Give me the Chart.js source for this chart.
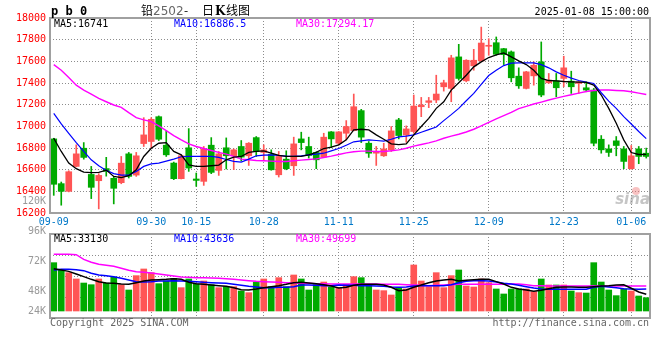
<!DOCTYPE html>
<html>
<head>
<meta charset="utf-8">
<script src="https://cdn.jsdelivr.net/npm/chart.js@4.4.1/dist/chart.umd.min.js"></script>
<style>
  html, body { margin: 0; padding: 0; background: #fff; }
  #wrap { position: relative; width: 660px; height: 360px; }
  #kline { position: absolute; left: 0; top: 0; }
  #vol { position: absolute; left: 0; top: 226px; }
</style>
</head>
<body>
<div id="wrap">
  <canvas id="kline" width="660" height="226"></canvas>
  <canvas id="vol" width="660" height="134"></canvas>
</div>
<script>
// trading days shown on the chart
const dates = [
  '09-09','09-10','09-11','09-12','09-13','09-18','09-19','09-20','09-23','09-24',
  '09-25','09-26','09-27','09-30','10-08','10-09','10-10','10-11','10-14','10-15',
  '10-16','10-17','10-18','10-21','10-22','10-23','10-24','10-25','10-28','10-29',
  '10-30','10-31','11-01','11-04','11-05','11-06','11-07','11-08','11-11','11-12',
  '11-13','11-14','11-15','11-18','11-19','11-20','11-21','11-22','11-25','11-26',
  '11-27','11-28','11-29','12-02','12-03','12-04','12-05','12-06','12-09','12-10',
  '12-11','12-12','12-13','12-16','12-17','12-18','12-19','12-20','12-23','12-24',
  '12-25','12-26','12-27','12-30','12-31','01-02','01-03','01-06','01-07','01-08'
];
const tickDates = ['09-09','09-30','10-15','10-28','11-11','11-25','12-09','12-23','01-06'];

const opens = [
  16884,16471,16400,16630,16798,16556,16498,16610,16520,16480,
  16746,16550,16841,16860,17089,16826,16661,16517,16802,16514,
  16492,16826,16593,16802,16728,16814,16728,16896,16759,16743,
  16553,16697,16636,16884,16814,16759,16716,16949,16844,16936,
  16961,17145,16844,16752,16728,16783,17059,16921,16952,17181,
  17221,17243,17365,17350,17641,17420,17558,17604,17739,17772,
  17717,17687,17463,17350,17466,17595,17402,17420,17442,17417,
  17396,17356,17335,16881,16792,16866,16792,16609,16792,16752
];
const highs = [
  16890,16486,16590,16829,16850,16630,16563,16714,16538,16722,
  16759,16759,17080,17080,17096,16958,16670,16737,16979,16569,
  16814,16896,16768,16893,16792,16869,16850,16906,16829,16783,
  16768,16774,16900,16946,16900,16765,16936,16952,16952,17053,
  17298,17157,16860,16814,16844,16998,17074,17004,17289,17267,
  17267,17472,17426,17656,17757,17615,17711,17916,17809,17825,
  17720,17696,17540,17508,17595,17779,17488,17488,17647,17509,
  17414,17411,17350,16915,16829,16906,16814,16823,16814,16799
];
const lows = [
  16363,16272,16395,16625,16697,16333,16238,16540,16284,16470,
  16523,16538,16814,16798,16869,16722,16508,16514,16584,16446,
  16455,16563,16547,16606,16600,16680,16639,16722,16685,16595,
  16532,16599,16547,16783,16707,16609,16712,16802,16829,16875,
  16958,16850,16713,16639,16722,16768,16884,16853,16936,17089,
  17172,17218,17325,17227,17426,17411,17518,17600,17656,17656,
  17570,17411,17350,17345,17380,17273,17396,17273,17365,17304,
  17304,17319,16820,16752,16722,16728,16609,16605,16655,16707
];
const closes = [
  16465,16400,16581,16746,16713,16437,16547,16585,16428,16660,
  16538,16728,16921,17065,16881,16737,16517,16728,16615,16501,
  16792,16575,16746,16728,16783,16716,16844,16768,16783,16599,
  16722,16609,16838,16850,16731,16691,16900,16884,16949,16998,
  17181,16900,16752,16765,16792,16958,16915,16976,17187,17197,
  17236,17298,17402,17632,17442,17610,17610,17769,17745,17665,
  17662,17448,17374,17503,17564,17289,17426,17356,17540,17365,
  17411,17335,16844,16783,16759,16823,16676,16728,16722,16722
];

const ma5 = [
  16890,16768,16661,16609,16578,16572,16575,16596,16538,16526,
  16544,16599,16722,16798,16844,16850,16768,16737,16645,16630,
  16630,16636,16642,16691,16716,16722,16759,16768,16774,16753,
  16731,16722,16722,16722,16737,16759,16795,16808,16829,16875,
  16967,16973,16967,16921,16881,16838,16832,16838,16921,16998,
  17074,17166,17227,17335,17402,17472,17549,17595,17635,17659,
  17678,17641,17604,17570,17518,17442,17423,17420,17414,17411,
  17408,17405,17380,17289,17166,17028,16875,16758,16740,16741
];
const ma10 = [
  17120,17022,16936,16850,16768,16691,16636,16593,16563,16550,
  16550,16584,16630,16654,16661,16679,16697,16719,16722,16722,
  16722,16722,16713,16694,16676,16670,16697,16728,16734,16737,
  16731,16725,16722,16728,16737,16743,16752,16774,16795,16826,
  16857,16866,16875,16869,16863,16881,16903,16909,16921,16945,
  16970,16994,17053,17108,17166,17236,17304,17387,17469,17518,
  17561,17583,17586,17586,17586,17570,17540,17503,17472,17445,
  17423,17408,17396,17310,17233,17166,17089,17022,16952,16887
];
const ma30 = [
  17570,17518,17451,17380,17334,17298,17258,17227,17197,17175,
  17126,17080,17059,17043,17004,16961,16915,16875,16838,16814,
  16795,16777,16759,16743,16722,16697,16691,16685,16682,16679,
  16676,16676,16682,16688,16694,16700,16712,16725,16740,16755,
  16765,16771,16771,16768,16768,16774,16783,16798,16817,16832,
  16847,16866,16890,16909,16927,16948,16973,17004,17037,17068,
  17099,17129,17163,17184,17206,17224,17243,17261,17276,17292,
  17307,17322,17331,17335,17335,17331,17328,17319,17307,17294
];

const volumes = [
  95700,82500,75900,63400,55400,52100,63400,55400,67300,52100,
  41600,70000,83200,75900,54100,59400,64700,46200,63400,53500,
  59400,52100,46200,48200,48200,39600,36300,57400,63400,48200,
  66000,48200,71300,63400,41600,52100,57400,47500,46200,52800,
  68000,66000,52800,41600,40300,31700,46200,43600,91100,59400,
  48200,75900,46200,70000,81200,49500,47500,63400,56100,43600,
  33700,43600,43600,43600,38300,63400,51500,51500,51500,39600,
  36300,35600,95700,57400,41600,30400,43600,39600,29700,26400
];
const volMa5 = [
  83800,81200,78500,73300,68000,62700,58100,55400,54800,53500,
  52800,56100,59400,61400,62000,62700,64000,62700,56800,54100,
  52800,51500,50200,48800,46200,42200,41600,43600,46200,48200,
  50200,52800,56100,56800,55400,54100,52100,49500,45500,46900,
  50800,52800,52800,52800,51500,46900,40300,41600,46900,51500,
  56100,59400,61400,62700,59400,60700,62000,62700,62700,58100,
  53500,46900,43600,41600,38900,40900,44200,46900,47500,47500,
  46900,46900,48200,49500,50200,51500,52000,45000,37600,33130
];
const volMa10 = [
  81200,82500,82500,81800,79900,74600,71300,70000,68000,64700,
  61400,58100,57400,58100,59400,59400,60100,59400,58700,58100,
  56800,56100,55400,54800,52800,50800,48800,47500,46200,46200,
  46900,46900,48200,51500,51500,50800,50200,50200,51500,50800,
  50800,50200,50200,49500,48800,47500,46900,47500,49500,50200,
  50200,50200,50200,52100,56100,58700,60100,60100,59400,57400,
  54800,53500,50800,48200,45500,43600,42900,42900,42900,42900,
  42900,42900,46900,48800,47500,46200,44200,43600,43000,43636
];
const volMa30 = [
  112200,112200,112200,111500,102300,96400,92400,90400,88400,84500,
  80500,77900,76600,75200,73300,71300,69300,67300,66700,66000,
  66000,65300,64700,64000,62700,61400,60100,58700,58100,57400,
  56800,56100,55400,54800,54800,54100,54100,53500,53500,53500,
  53500,53500,53500,53500,52800,52800,52800,52100,51500,50800,
  50200,50800,51500,52100,52800,52800,52800,52800,52800,52800,
  52800,53500,53500,52100,50200,50200,49500,49500,49500,49500,
  49500,49500,49500,49500,49500,49500,49500,49500,49500,49699
];

const maNames = ['MA5', 'MA10', 'MA30'];
const priceMaLast = ['16741', '16886.5', '17294.17'];
const volMaLast = ['33130', '43636', '49699'];
const volAxisLabels = ['120K', '96K', '72K', '48K', '24K'];

const priceMin = 16200, priceMax = 18000, priceStep = 200;
const volMin = -13860, volMax = 152460;

const UP = '#ff5555';
const DOWN = '#00aa00';
const MA_COLORS = ['#000000', '#0000ff', '#ff00ff'];
const MONO = '"DejaVu Sans Mono", monospace';
const GRID = '#8c8c8c';

Chart.defaults.font.family = MONO;
Chart.defaults.font.size = 10;

const candleColors = opens.map((o, i) => closes[i] >= o ? UP : DOWN);
const bodies = opens.map((o, i) => [Math.min(o, closes[i]), Math.max(o, closes[i])]);
const wicks = lows.map((l, i) => [l, highs[i]]);

const labelIdx = tickDates.map(d => dates.indexOf(d));
const gridIdx = labelIdx.slice(1);

function xGridColor(ctx) {
    return gridIdx.includes(ctx.index) ? GRID : 'rgba(0,0,0,0)';
}

function maLine(data, color, width) {
    return {
        type: 'line',
        data: data,
        borderColor: color,
        borderWidth: width,
        pointRadius: 0,
        tension: 0,
        fill: false,
        order: 0
    };
}

const framePlugin = {
    id: 'frame',
    afterDraw(chart) {
        const { ctx, chartArea: a } = chart;
        ctx.save();
        ctx.strokeStyle = '#a0a0a0';
        ctx.lineWidth = 2;
        ctx.strokeRect(a.left, a.top, a.right - a.left, a.bottom - a.top);
        ctx.restore();
    }
};

function drawMaLegend(ctx, values, y) {
    const xs = [54, 174, 296];
    ctx.font = '10px ' + MONO;
    ctx.textAlign = 'left';
    maNames.forEach((name, i) => {
        ctx.fillStyle = MA_COLORS[i];
        ctx.fillText(name + ':' + values[i], xs[i], y);
    });
}

const klineText = {
    id: 'klineText',
    afterDraw(chart) {
        const ctx = chart.ctx;
        ctx.save();
        ctx.textBaseline = 'alphabetic';

        ctx.fillStyle = '#000';
        ctx.font = 'bold 12px ' + MONO;
        ctx.fillText('p b 0', 51, 15);

        ctx.font = '12px "Noto Sans CJK SC"';
        ctx.fillText('铅', 141, 15);
        ctx.fillStyle = '#666';
        ctx.font = '12px "DejaVu Sans"';
        ctx.fillText('2502', 153, 15);
        ctx.fillStyle = '#000';
        ctx.font = '12px "Noto Sans CJK SC"';
        ctx.fillText('-', 184, 15);
        ctx.fillText('日', 202, 15);
        ctx.font = 'bold 12px "DejaVu Serif"';
        ctx.fillText('K', 215, 15);
        ctx.font = '12px "Noto Sans CJK SC"';
        ctx.fillText('线图', 226, 15);

        ctx.font = '10px ' + MONO;
        ctx.textAlign = 'right';
        ctx.fillText('2025-01-08 15:00:00', 649, 15);

        drawMaLegend(ctx, priceMaLast, 27);

        // stray volume label that sina draws inside the price panel
        ctx.textAlign = 'right';
        ctx.textBaseline = 'middle';
        ctx.fillStyle = '#999';
        ctx.font = '10px ' + MONO;
        ctx.fillText(volAxisLabels[0], 46, 201);

        // watermark
        ctx.fillStyle = 'rgba(150,150,150,0.55)';
        ctx.font = 'italic bold 15px "DejaVu Sans"';
        ctx.textBaseline = 'alphabetic';
        ctx.fillText('sina', 650, 204);
        ctx.fillStyle = 'rgba(240,120,120,0.45)';
        ctx.beginPath();
        ctx.arc(636, 191, 4, 0, Math.PI * 2);
        ctx.fill();
        ctx.restore();
    }
};

const volText = {
    id: 'volText',
    afterDraw(chart) {
        const ctx = chart.ctx;
        ctx.save();
        ctx.textBaseline = 'alphabetic';
        drawMaLegend(ctx, volMaLast, 16);

        ctx.textAlign = 'right';
        ctx.textBaseline = 'middle';
        ctx.fillStyle = '#999';
        ctx.font = '10px ' + MONO;
        const ys = [5, 35, 65, 85];
        volAxisLabels.slice(1).forEach((t, i) => ctx.fillText(t, 46, ys[i]));

        ctx.textBaseline = 'alphabetic';
        ctx.fillStyle = '#666';
        ctx.textAlign = 'left';
        ctx.fillText('Copyright 2025 SINA.COM', 50, 100);
        ctx.textAlign = 'right';
        ctx.fillText('http://finance.sina.com.cn', 649, 100);
        ctx.restore();
    }
};

new Chart(document.getElementById('kline'), {
    type: 'bar',
    data: {
        labels: dates,
        datasets: [
            maLine(ma5, MA_COLORS[0], 1.3),
            maLine(ma10, MA_COLORS[1], 1.2),
            maLine(ma30, MA_COLORS[2], 1.4),
            {
                data: bodies,
                backgroundColor: candleColors,
                barThickness: 6,
                minBarLength: 1,
                grouped: false,
                order: 1
            },
            {
                data: wicks,
                backgroundColor: candleColors,
                barThickness: 1,
                grouped: false,
                order: 2
            }
        ]
    },
    options: {
        responsive: false,
        animation: false,
        devicePixelRatio: 1,
        layout: { padding: { top: 18, right: 10, left: 0, bottom: 0 } },
        plugins: { legend: { display: false }, tooltip: { enabled: false } },
        scales: {
            x: {
                offset: true,
                grid: { offset: false, color: xGridColor, drawTicks: false, lineWidth: 1 },
                border: { display: false, dash: [1, 2] },
                ticks: {
                    autoSkip: false,
                    maxRotation: 0,
                    padding: 3,
                    color: '#0078c8',
                    font: { family: MONO, size: 10 },
                    callback: (v, i) => labelIdx.includes(i) ? dates[i] : ''
                },
                afterFit: s => { s.height = 13; }
            },
            y: {
                min: priceMin,
                max: priceMax,
                ticks: {
                    stepSize: priceStep,
                    color: '#ff0000',
                    padding: 4,
                    font: { family: MONO, size: 10 },
                    callback: v => String(v)
                },
                grid: { color: GRID, drawTicks: false, lineWidth: 1 },
                border: { display: false, dash: [1, 2] },
                afterFit: s => { s.width = 50; }
            }
        }
    },
    plugins: [framePlugin, klineText]
});

new Chart(document.getElementById('vol'), {
    type: 'bar',
    data: {
        labels: dates,
        datasets: [
            maLine(volMa5, MA_COLORS[0], 1.5),
            maLine(volMa10, MA_COLORS[1], 1.5),
            maLine(volMa30, MA_COLORS[2], 1.5),
            {
                data: volumes,
                backgroundColor: candleColors,
                barThickness: 6,
                grouped: false,
                order: 1
            }
        ]
    },
    options: {
        responsive: false,
        animation: false,
        devicePixelRatio: 1,
        layout: { padding: { top: 8, right: 10, left: 0, bottom: 42 } },
        plugins: { legend: { display: false }, tooltip: { enabled: false } },
        scales: {
            x: {
                offset: true,
                grid: { offset: false, color: xGridColor, drawTicks: false, lineWidth: 1 },
                border: { display: false, dash: [1, 2] },
                ticks: { display: false },
                afterFit: s => { s.height = 0; }
            },
            y: {
                min: volMin,
                max: volMax,
                ticks: { display: false },
                grid: { color: GRID, drawTicks: false, lineWidth: 1 },
                border: { display: false, dash: [1, 2] },
                afterBuildTicks: s => {
                    s.ticks = [0, 1, 2, 3, 4].map(k => ({ value: volMin + k * (volMax - volMin) / 4 }));
                },
                afterFit: s => { s.width = 50; }
            }
        }
    },
    plugins: [framePlugin, volText]
});
</script>
</body>
</html>
